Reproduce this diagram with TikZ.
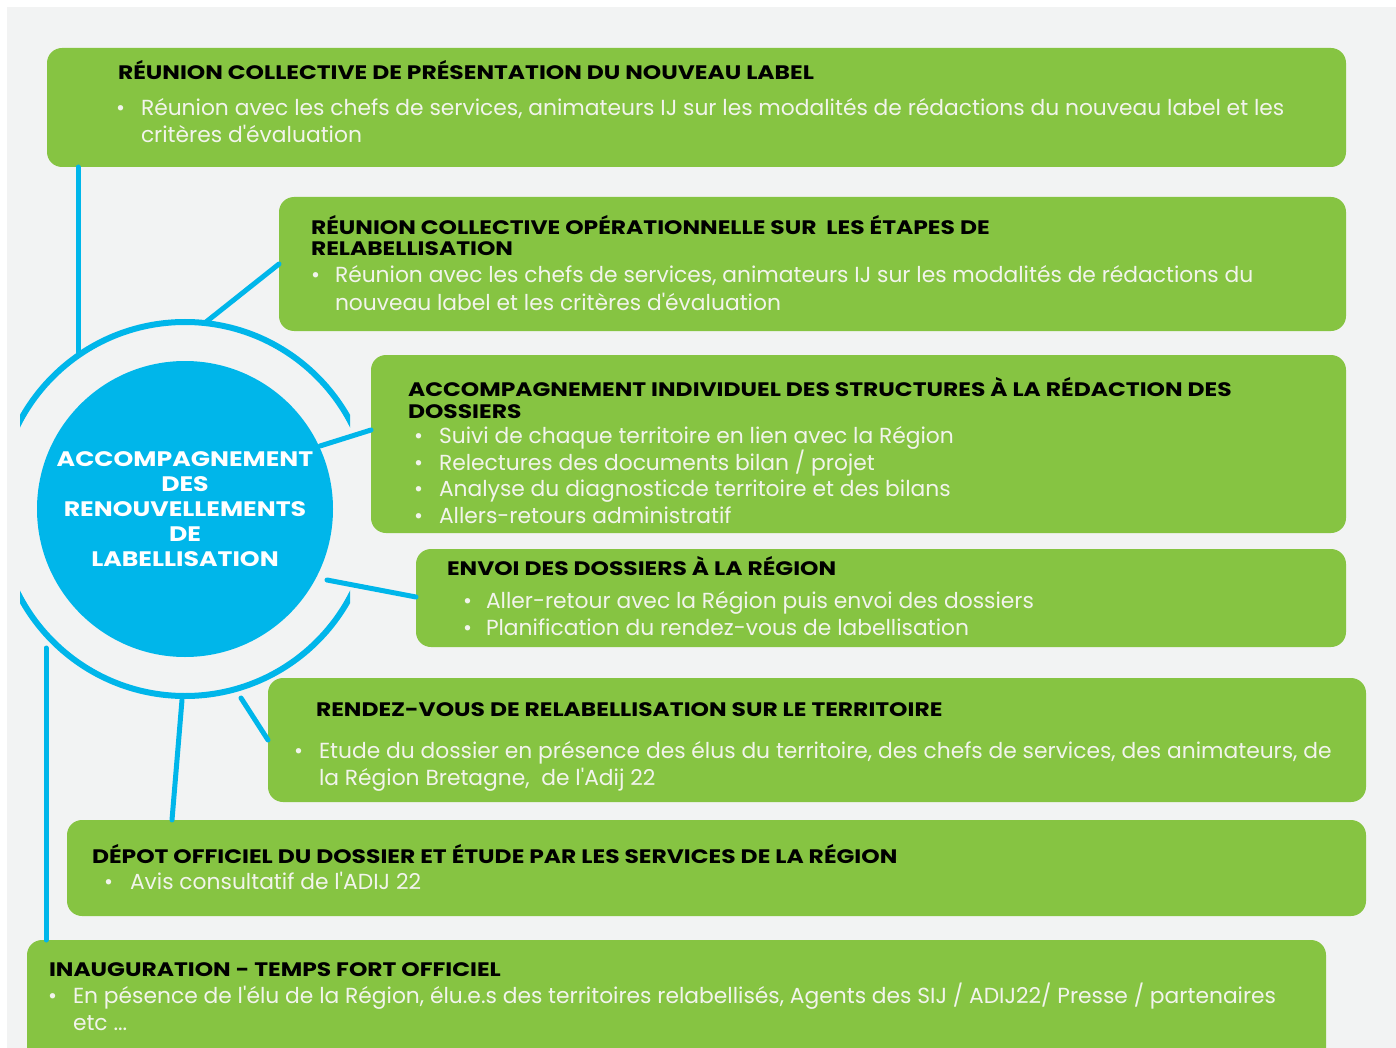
\documentclass[tikz,border=0pt]{standalone}
\usepackage{fontspec}
\setmainfont{Poppins}[Ligatures=TeXOff]
\newfontfamily\ttlfont{Poppins}[FakeStretch=1.2,Ligatures=TeXOff]
\usetikzlibrary{calc}
\definecolor{bg}{RGB}{242,243,243}
\definecolor{grn}{RGB}{134,196,66}
\definecolor{blu}{RGB}{0,182,234}
\definecolor{txw}{RGB}{242,244,236}
\tikzset{
  box/.style={fill=grn, draw=none, rounded corners=15pt, anchor=north west, inner sep=0pt, outer sep=0pt},
  ttl/.style={anchor=base west, inner sep=0pt, outer sep=0pt, text=black, font=\ttlfont\fontsize{19.5}{21}\selectfont\bfseries},
  bod/.style={anchor=base west, inner sep=0pt, outer sep=0pt, text=txw, font=\fontsize{21.8}{27}\selectfont},
  conn/.style={draw=blu, line width=5pt, line cap=round},
  ring/.style={draw=blu, line width=6pt},
}
\begin{document}
\begin{tikzpicture}[x=1pt,y=-1pt]
\useasboundingbox (0,0) rectangle (1396,1048);
\clip (0,0) rectangle (1396,1048);
\fill[bg] (7,7) rectangle (1396,1048);

% boxes
\node[box, minimum width=1299pt, minimum height=119pt] (b1) at (47,48) {};
\node[box, minimum width=1067pt, minimum height=134pt] (b2) at (279,197) {};
\node[box, minimum width=975pt, minimum height=178pt] (b3) at (371,355) {};
\node[box, minimum width=930pt, minimum height=98pt] (b4) at (416,549) {};
\node[box, minimum width=1098pt, minimum height=124pt] (b5) at (268,678) {};
\node[box, minimum width=1299pt, minimum height=96pt] (b6) at (67,820) {};
\node[box, minimum width=1299pt, minimum height=130pt] (b7) at (27,940) {};

% central circle
\node[circle, fill=blu, minimum size=296pt, inner sep=0pt, text=white, align=center,
  font=\ttlfont\fontsize{21}{25}\selectfont\bfseries] (c) at (185,509)
  {ACCOMPAGNEMENT\\DES\\RENOUVELLEMENTS\\DE\\LABELLISATION};
\begin{scope}
\clip (20,300) rectangle (350,720);
\draw[ring] (c.center) circle[radius=187];
\end{scope}

% ring / circle contact points
\coordinate (r1) at (78,354);
\coordinate (r2) at (206,322);
\coordinate (r3) at (320,446);
\coordinate (r4) at (327,580);
\coordinate (r5) at (241,698);
\coordinate (r6) at (182,700);
\coordinate (r7) at (46,648);

% connectors
\draw[conn] (r1 |- b1.south) -- (r1);
\draw[conn] ($(b2.north west)+(0,67)$) -- (r2);
\draw[conn] ($(b3.north west)+(0,75)$) -- (r3);
\draw[conn] ($(b4.north west)+(0,48)$) -- (r4);
\draw[conn] ($(b5.north west)+(0,62)$) -- (r5);
\draw[conn] ($(b6.north west)+(105,0)$) -- (r6);
\draw[conn] (r7 |- b7.north) -- (r7);

% box 1
\node[ttl] (t1) at (118,80) {RÉUNION COLLECTIVE DE PRÉSENTATION DU NOUVEAU LABEL};
\node[bod] (p1) at (116,116) {•};
\node[bod] (l1a) at (141,116) {Réunion avec les chefs de services, animateurs IJ sur les modalités de rédactions du nouveau label et les};
\node[bod] (l1b) at (141,143) {critères d'évaluation};

% box 2
\node[ttl] (t2a) at (311,235) {RÉUNION COLLECTIVE OPÉRATIONNELLE SUR \ LES ÉTAPES DE};
\node[ttl] (t2b) at (311,256) {RELABELLISATION};
\node[bod] (p2) at (311,283) {•};
\node[bod] (l2a) at (335,283) {Réunion avec les chefs de services, animateurs IJ sur les modalités de rédactions du};
\node[bod] (l2b) at (335,310) {nouveau label et les critères d'évaluation};

% box 3
\node[ttl] (t3a) at (408,396) {ACCOMPAGNEMENT INDIVIDUEL DES STRUCTURES À LA RÉDACTION DES};
\node[ttl] (t3b) at (408,418) {DOSSIERS};
\node[bod] (p3a) at (414,443) {•};
\node[bod] (l3a) at (439,443) {Suivi de chaque territoire en lien avec la Région};
\node[bod] (p3b) at (414,470) {•};
\node[bod] (l3b) at (439,470) {Relectures des documents bilan / projet};
\node[bod] (p3c) at (414,496) {•};
\node[bod] (l3c) at (439,496) {Analyse du diagnosticde territoire et des bilans};
\node[bod] (p3d) at (414,523) {•};
\node[bod] (l3d) at (439,523) {Allers-retours administratif};

% box 4
\node[ttl] (t4) at (447,575) {ENVOI DES DOSSIERS À LA RÉGION};
\node[bod] (p4a) at (463,608) {•};
\node[bod] (l4a) at (486,608) {Aller-retour avec la Région puis envoi des dossiers};
\node[bod] (p4b) at (463,635) {•};
\node[bod] (l4b) at (486,635) {Planification du rendez-vous de labellisation};

% box 5
\node[ttl] (t5) at (316,716) {RENDEZ-VOUS DE RELABELLISATION SUR LE TERRITOIRE};
\node[bod] (p5) at (294,758) {•};
\node[bod] (l5a) at (319,758) {Etude du dossier en présence des élus du territoire, des chefs de services, des animateurs, de};
\node[bod] (l5b) at (319,785) {la Région Bretagne, \ de l'Adij 22};

% box 6
\node[ttl] (t6) at (92,863) {DÉPOT OFFICIEL DU DOSSIER ET ÉTUDE PAR LES SERVICES DE LA RÉGION};
\node[bod] (p6) at (104,889) {•};
\node[bod] (l6) at (130,889) {Avis consultatif de l'ADIJ 22};

% box 7
\node[ttl] (t7) at (49,976) {INAUGURATION - TEMPS FORT OFFICIEL};
\node[bod] (p7) at (48,1003) {•};
\node[bod] (l7a) at (73,1003) {En pésence de l'élu de la Région, élu.e.s des territoires relabellisés, Agents des SIJ / ADIJ22/ Presse / partenaires};
\node[bod] (l7b) at (73,1030) {etc ...};
\end{tikzpicture}
\end{document}
